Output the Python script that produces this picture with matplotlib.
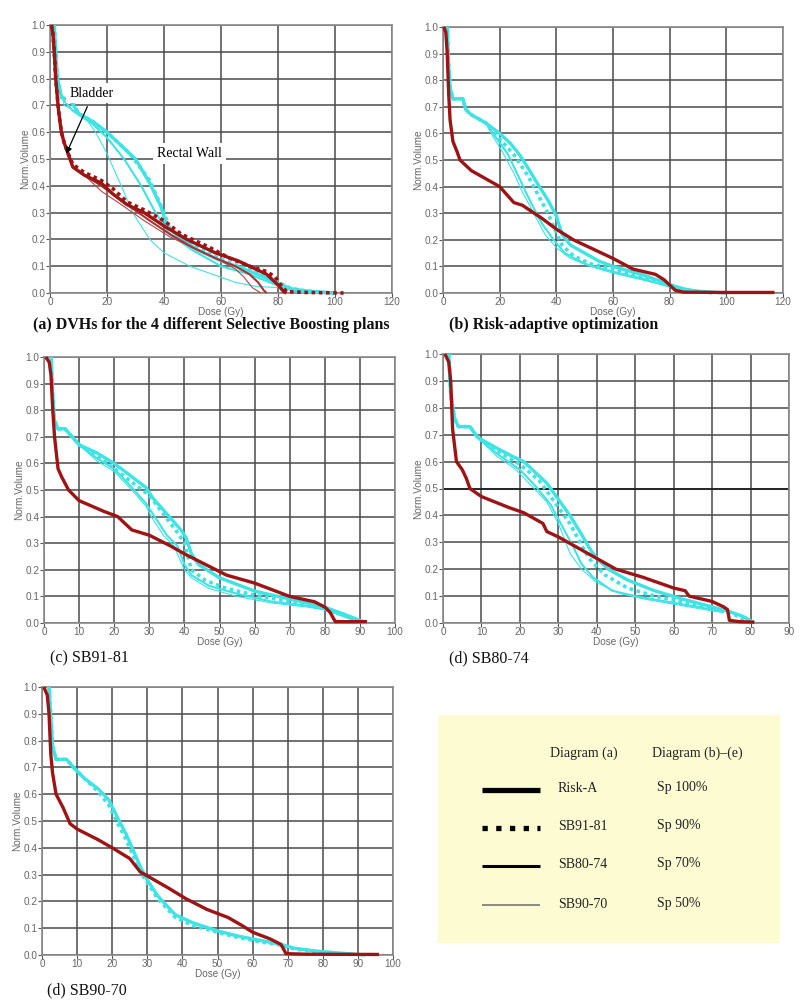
import matplotlib
matplotlib.use("Agg")
import matplotlib.pyplot as plt
from matplotlib.patches import Rectangle

# ---------------- data ----------------
# Panel (a): DVHs for 4 Selective Boosting plans
A_BLAD_RISKA_DOSE = [0.5, 1, 1.5, 2, 3, 4, 5, 6, 8, 12, 18, 22, 27, 33, 40, 48, 58, 66, 72, 76, 78, 80, 82, 83]
A_BLAD_RISKA_VOL = [1.0, 0.97, 0.9, 0.8, 0.68, 0.6, 0.56, 0.53, 0.47, 0.44, 0.41, 0.37, 0.33, 0.30, 0.25, 0.20, 0.15, 0.12, 0.09, 0.07, 0.05, 0.03, 0.005, 0.0]
A_BLAD_SB9181_DOSE = [0.5, 1, 1.5, 2, 3, 4, 5, 6, 8, 12, 18, 22, 27, 33, 40, 46, 56, 63, 70, 76, 79, 81, 83, 90, 103]
A_BLAD_SB9181_VOL = [1.0, 0.97, 0.9, 0.8, 0.68, 0.6, 0.56, 0.53, 0.48, 0.45, 0.42, 0.39, 0.34, 0.31, 0.27, 0.22, 0.17, 0.13, 0.10, 0.08, 0.06, 0.03, 0.005, 0.002, 0.0]
A_BLAD_SB8074_DOSE = [0.5, 1, 1.5, 2, 3, 4, 5, 6, 8, 12, 18, 27, 35, 42, 50, 58, 65, 70, 73, 75, 76]
A_BLAD_SB8074_VOL = [1.0, 0.97, 0.9, 0.8, 0.68, 0.6, 0.56, 0.53, 0.47, 0.44, 0.40, 0.33, 0.27, 0.22, 0.17, 0.13, 0.10, 0.07, 0.04, 0.01, 0.0]
A_BLAD_SB9070_DOSE = [0.5, 1, 1.5, 2, 3, 4, 5, 6, 8, 12, 18, 25, 33, 42, 52, 60, 65, 68, 71, 74]
A_BLAD_SB9070_VOL = [1.0, 0.97, 0.9, 0.8, 0.68, 0.6, 0.56, 0.53, 0.47, 0.44, 0.38, 0.33, 0.27, 0.21, 0.16, 0.12, 0.09, 0.06, 0.02, 0.0]

A_RECT_RISKA_DOSE = [1.5, 2.5, 4, 7, 10, 15, 20, 25, 30, 35, 39, 41, 46, 52, 60, 68, 75, 80, 85, 92, 100]
A_RECT_RISKA_VOL = [1.0, 0.8, 0.73, 0.72, 0.67, 0.64, 0.60, 0.55, 0.50, 0.41, 0.32, 0.25, 0.20, 0.16, 0.12, 0.09, 0.06, 0.035, 0.015, 0.005, 0.0]
A_RECT_SB9181_DOSE = [1.5, 2.5, 4, 7, 10, 15, 20, 28, 35, 40, 42, 47, 57, 66, 75, 80, 84, 88, 95, 100]
A_RECT_SB9181_VOL = [1.0, 0.8, 0.73, 0.73, 0.67, 0.64, 0.60, 0.52, 0.42, 0.30, 0.24, 0.20, 0.14, 0.10, 0.07, 0.04, 0.02, 0.01, 0.003, 0.0]
A_RECT_SB8074_DOSE = [1.5, 2.5, 4, 8, 15, 20, 26, 32, 37, 42, 50, 60, 70, 77, 82, 88]
A_RECT_SB8074_VOL = [1.0, 0.8, 0.73, 0.68, 0.63, 0.58, 0.50, 0.40, 0.30, 0.22, 0.16, 0.10, 0.07, 0.04, 0.02, 0.0]
A_RECT_SB9070_DOSE = [1.5, 3, 5, 12, 16, 20, 25, 29, 35, 40, 49, 57, 65, 72, 80, 85, 90]
A_RECT_SB9070_VOL = [1.0, 0.8, 0.70, 0.66, 0.60, 0.52, 0.40, 0.30, 0.20, 0.15, 0.10, 0.07, 0.04, 0.025, 0.02, 0.01, 0.0]

# Panel (b): risk-adaptive optimization
B_BLAD_DOSE = [0.3, 1, 1.5, 2, 2.5, 3.5, 5, 6, 8, 10, 15, 20, 25, 28, 35, 40, 46, 54, 60, 67, 75, 78, 80, 82, 85, 100, 117]
B_BLAD_VOL = [1.0, 0.98, 0.9, 0.75, 0.65, 0.57, 0.53, 0.50, 0.48, 0.46, 0.43, 0.40, 0.34, 0.33, 0.28, 0.24, 0.20, 0.16, 0.13, 0.09, 0.07, 0.05, 0.03, 0.01, 0.003, 0.002, 0.002]
B_RECT_SP100_DOSE = [1.5, 2, 2.5, 3.5, 7, 8, 10, 15, 20, 24, 27, 30, 34, 37, 40, 42, 45, 50, 55, 60, 65, 70, 78, 82, 86, 90, 95, 100]
B_RECT_SP100_VOL = [1.0, 0.85, 0.77, 0.73, 0.73, 0.69, 0.67, 0.64, 0.60, 0.56, 0.52, 0.47, 0.40, 0.35, 0.29, 0.22, 0.18, 0.15, 0.12, 0.10, 0.085, 0.07, 0.04, 0.025, 0.013, 0.007, 0.003, 0.0]
B_RECT_SP90_DOSE = [1.5, 2, 2.5, 3.5, 7, 8, 10, 15, 20, 25, 30, 34, 37, 39, 42, 46, 52, 60, 70, 78, 84, 90, 96]
B_RECT_SP90_VOL = [1.0, 0.85, 0.77, 0.73, 0.73, 0.69, 0.67, 0.64, 0.58, 0.52, 0.44, 0.36, 0.30, 0.25, 0.18, 0.14, 0.11, 0.09, 0.06, 0.035, 0.015, 0.005, 0.0]
B_RECT_SP70_DOSE = [1.5, 2, 2.5, 3.5, 7, 8, 10, 15, 19, 23, 27, 31, 35, 39, 43, 50, 60, 70, 78, 84, 90, 95]
B_RECT_SP70_VOL = [1.0, 0.85, 0.77, 0.73, 0.73, 0.69, 0.67, 0.64, 0.58, 0.52, 0.43, 0.34, 0.26, 0.20, 0.15, 0.11, 0.08, 0.055, 0.03, 0.012, 0.004, 0.0]
B_RECT_SP50_DOSE = [1.5, 2, 2.5, 3.5, 7, 8, 10, 15, 17, 21, 25, 28, 32, 36, 40, 45, 52, 60, 70, 78, 84, 90, 95]
B_RECT_SP50_VOL = [1.0, 0.85, 0.77, 0.73, 0.73, 0.69, 0.67, 0.64, 0.60, 0.53, 0.45, 0.38, 0.30, 0.22, 0.17, 0.13, 0.10, 0.075, 0.05, 0.03, 0.012, 0.004, 0.0]

# Panel (c): SB91-81
C_BLAD_DOSE = [0.5, 1.5, 2, 2.5, 3, 4, 5, 7, 10, 17, 21, 25, 30, 36, 40, 46, 52, 60, 66, 70, 77, 80, 81.5, 83, 92]
C_BLAD_VOL = [1.0, 0.98, 0.93, 0.8, 0.7, 0.58, 0.55, 0.50, 0.46, 0.42, 0.40, 0.35, 0.33, 0.29, 0.26, 0.22, 0.18, 0.15, 0.12, 0.10, 0.08, 0.06, 0.04, 0.005, 0.005]
C_RECT_SP100_DOSE = [2, 2.5, 3, 4, 6, 8, 10, 15, 20, 25, 29, 31, 35, 39, 40.5, 42, 44, 50, 60, 70, 80, 85, 88, 92]
C_RECT_SP100_VOL = [1.0, 0.85, 0.76, 0.73, 0.73, 0.70, 0.67, 0.64, 0.60, 0.55, 0.51, 0.47, 0.41, 0.35, 0.32, 0.26, 0.22, 0.17, 0.12, 0.09, 0.06, 0.035, 0.02, 0.0]
C_RECT_SP90_DOSE = [2, 2.5, 3, 4, 6, 8, 10, 15, 20, 25, 30, 34, 38, 40, 42, 46, 52, 60, 70, 80, 86, 91]
C_RECT_SP90_VOL = [1.0, 0.85, 0.76, 0.73, 0.73, 0.70, 0.67, 0.63, 0.58, 0.53, 0.48, 0.41, 0.34, 0.30, 0.20, 0.16, 0.13, 0.105, 0.08, 0.055, 0.03, 0.0]
C_RECT_SP70_DOSE = [2, 2.5, 3, 4, 6, 8, 10, 15, 20, 25, 29, 32, 35, 38, 40, 42, 47, 55, 65, 75, 80, 86, 91]
C_RECT_SP70_VOL = [1.0, 0.85, 0.76, 0.73, 0.73, 0.70, 0.67, 0.62, 0.58, 0.51, 0.45, 0.39, 0.33, 0.29, 0.22, 0.18, 0.14, 0.11, 0.08, 0.065, 0.05, 0.025, 0.0]
C_RECT_SP50_DOSE = [2, 2.5, 3, 4, 6, 8, 10, 15, 20, 25, 29, 31, 34, 37, 40, 42, 47, 55, 65, 75, 80, 86, 90]
C_RECT_SP50_VOL = [1.0, 0.85, 0.76, 0.73, 0.73, 0.70, 0.67, 0.61, 0.57, 0.50, 0.44, 0.39, 0.33, 0.29, 0.20, 0.17, 0.13, 0.10, 0.075, 0.06, 0.05, 0.02, 0.0]

# Panel (d): SB80-74
D_BLAD_DOSE = [0.5, 1.5, 2, 2.5, 3.5, 5, 6, 7, 10, 17, 21, 26, 27, 30, 35, 40, 45, 52, 60, 63, 64, 70, 73, 74, 74.5, 77, 81]
D_BLAD_VOL = [1.0, 0.97, 0.9, 0.72, 0.60, 0.57, 0.54, 0.50, 0.47, 0.43, 0.41, 0.37, 0.34, 0.32, 0.28, 0.24, 0.20, 0.17, 0.13, 0.12, 0.10, 0.08, 0.06, 0.05, 0.01, 0.005, 0.003]
D_RECT_SP100_DOSE = [1.5, 2, 3, 4, 7, 9, 14, 18, 21, 24, 27, 30, 33, 36, 38, 40, 43, 48, 55, 62, 70, 75, 78, 81]
D_RECT_SP100_VOL = [1.0, 0.85, 0.76, 0.73, 0.73, 0.69, 0.65, 0.62, 0.60, 0.56, 0.52, 0.46, 0.40, 0.33, 0.28, 0.24, 0.20, 0.16, 0.12, 0.09, 0.06, 0.04, 0.025, 0.0]
D_RECT_SP90_DOSE = [1.5, 2, 3, 4, 7, 9, 14, 20, 25, 29, 33, 36, 38, 42, 48, 55, 62, 70, 74, 80]
D_RECT_SP90_VOL = [1.0, 0.85, 0.76, 0.73, 0.73, 0.69, 0.64, 0.59, 0.53, 0.45, 0.37, 0.29, 0.24, 0.18, 0.13, 0.10, 0.08, 0.055, 0.045, 0.0]
D_RECT_SP70_DOSE = [1.5, 2, 3, 4, 7, 9, 14, 20, 24, 28, 31, 34, 36, 39, 44, 50, 60, 70, 73]
D_RECT_SP70_VOL = [1.0, 0.85, 0.76, 0.73, 0.73, 0.69, 0.63, 0.57, 0.51, 0.44, 0.36, 0.28, 0.22, 0.17, 0.12, 0.10, 0.075, 0.05, 0.04]
D_RECT_SP50_DOSE = [1.5, 2, 3, 4, 7, 9, 14, 19, 23, 27, 30, 33, 36, 40, 46, 52, 60, 70, 73]
D_RECT_SP50_VOL = [1.0, 0.85, 0.76, 0.73, 0.73, 0.69, 0.62, 0.57, 0.51, 0.45, 0.37, 0.26, 0.20, 0.15, 0.11, 0.09, 0.07, 0.045, 0.04]
D_REF_LEVEL = 0.5

# Panel (e): SB90-70
E_BLAD_DOSE = [0.5, 1.5, 2, 2.5, 3, 4, 6, 8, 10, 16, 20, 25, 28, 32, 36, 41, 47, 53, 57, 60, 65, 68, 68.5, 69.5, 75, 96]
E_BLAD_VOL = [1.0, 0.97, 0.9, 0.75, 0.68, 0.60, 0.55, 0.49, 0.47, 0.43, 0.40, 0.36, 0.31, 0.28, 0.25, 0.21, 0.17, 0.14, 0.11, 0.085, 0.06, 0.04, 0.03, 0.005, 0.003, 0.002]
E_RECT_SP100_DOSE = [2, 3, 4, 7, 9, 12, 16, 19, 22, 24, 26, 28, 30, 33, 38, 43, 50, 56, 62, 68, 72, 78, 84, 88, 92]
E_RECT_SP100_VOL = [1.0, 0.78, 0.73, 0.73, 0.70, 0.66, 0.62, 0.58, 0.50, 0.45, 0.39, 0.33, 0.28, 0.22, 0.15, 0.12, 0.09, 0.07, 0.055, 0.04, 0.025, 0.015, 0.008, 0.004, 0.0]
E_RECT_SP90_DOSE = [2, 3, 4, 7, 9, 12, 16, 19, 22, 24, 26, 28, 30, 33, 38, 43, 50, 56, 62, 68, 72, 78, 84, 88]
E_RECT_SP90_VOL = [1.0, 0.78, 0.73, 0.73, 0.70, 0.66, 0.61, 0.56, 0.48, 0.43, 0.37, 0.31, 0.27, 0.21, 0.14, 0.11, 0.085, 0.065, 0.05, 0.037, 0.022, 0.013, 0.006, 0.002]

# Axis ticks
Y_TICKS = [0.0, 0.1, 0.2, 0.3, 0.4, 0.5, 0.6, 0.7, 0.8, 0.9, 1.0]
X_TICKS_120 = [0, 20, 40, 60, 80, 100, 120]
X_TICKS_100 = [0, 10, 20, 30, 40, 50, 60, 70, 80, 90, 100]
X_TICKS_90 = [0, 10, 20, 30, 40, 50, 60, 70, 80, 90]

# Captions and legend text
CAPTIONS = ["(a) DVHs for the 4 different Selective Boosting plans",
            "(b) Risk-adaptive optimization",
            "(c) SB91-81", "(d) SB80-74", "(d) SB90-70"]
LEGEND_HEAD = ["Diagram (a)", "Diagram (b)\u2013(e)"]
LEGEND_A = ["Risk-A", "SB91-81", "SB80-74", "SB90-70"]
LEGEND_BE = ["Sp 100%", "Sp 90%", "Sp 70%", "Sp 50%"]

# ---------------- style ----------------
RED = "#9E1414"
CYAN = "#3EE3E6"
GRID = "#4a4a4a"
TICKC = "#666666"
STYLES = {
    "thick": dict(lw=2.4, ls="-"),
    "dot": dict(lw=2.6, ls=(0, (1.0, 1.0))),
    "med": dict(lw=1.5, ls="-"),
    "thin": dict(lw=0.8, ls="-"),
}

W, H = 800, 1002
fig = plt.figure(figsize=(W / 100, H / 100), dpi=100)


def px_axes(l, t, r, b):
    return fig.add_axes([l / W, 1 - b / H, (r - l) / W, (b - t) / H])


def setup(ax, xmax, xticks):
    ax.set_xlim(0, xmax)
    ax.set_ylim(0, 1.0)
    ax.set_xticks(xticks)
    ax.set_yticks(Y_TICKS)
    ax.set_yticklabels([f"{v:.1f}" for v in Y_TICKS])
    ax.grid(True, color=GRID, lw=1.1)
    ax.set_axisbelow(True)
    for s in ax.spines.values():
        s.set_color("#8a8a8a")
        s.set_linewidth(1.2)
    ax.tick_params(axis="both", colors="#555555", labelcolor=TICKC, labelsize=7.2,
                   length=3, width=0.8, pad=0.3)
    ax.tick_params(axis="x", pad=0)
    for lab in ax.get_xticklabels() + ax.get_yticklabels():
        lab.set_family("Liberation Sans")
    ax.set_xlabel("Dose (Gy)", fontsize=7.2, color=TICKC, labelpad=0.2, family="Liberation Sans")
    ax.set_ylabel("Norm.Volume", fontsize=7.2, color=TICKC, labelpad=1, family="Liberation Sans")


def curve(ax, x, y, color, style, z=3):
    ax.plot(x, y, color=color, clip_on=False, zorder=z, solid_capstyle="butt", **STYLES[style])


# ---- (a)
axa = px_axes(50, 25, 392, 293)
setup(axa, 120, X_TICKS_120)
curve(axa, A_RECT_SB9070_DOSE, A_RECT_SB9070_VOL, CYAN, "thin")
curve(axa, A_RECT_SB8074_DOSE, A_RECT_SB8074_VOL, CYAN, "med")
curve(axa, A_RECT_RISKA_DOSE, A_RECT_RISKA_VOL, CYAN, "thick")
curve(axa, A_RECT_SB9181_DOSE, A_RECT_SB9181_VOL, CYAN, "dot")
curve(axa, A_BLAD_SB9070_DOSE, A_BLAD_SB9070_VOL, "#B04848", "thin", 4)
curve(axa, A_BLAD_SB8074_DOSE, A_BLAD_SB8074_VOL, "#B03030", "med", 4)
curve(axa, A_BLAD_RISKA_DOSE, A_BLAD_RISKA_VOL, RED, "thick", 4)
curve(axa, A_BLAD_SB9181_DOSE, A_BLAD_SB9181_VOL, RED, "dot", 5)
# annotation labels (white boxes covering the grid)
axa.text(14.5, 0.745, "Bladder", fontsize=10, family="Liberation Serif", ha="center", va="center",
         bbox=dict(boxstyle="square,pad=0.25", fc="white", ec="none"), zorder=6)
axa.annotate("", xy=(5.3, 0.51), xytext=(13.5, 0.705),
             arrowprops=dict(arrowstyle="-|>", color="black", lw=0.9, mutation_scale=9), zorder=7)
axa.text(49, 0.52, "Rectal Wall", fontsize=10, family="Liberation Serif", ha="center", va="center",
         bbox=dict(boxstyle="square,pad=0.3", fc="white", ec="none"), zorder=6)

# ---- (b)
axb = px_axes(443, 27, 783, 293)
setup(axb, 120, X_TICKS_120)
curve(axb, B_RECT_SP50_DOSE, B_RECT_SP50_VOL, CYAN, "thin")
curve(axb, B_RECT_SP70_DOSE, B_RECT_SP70_VOL, CYAN, "med")
curve(axb, B_RECT_SP100_DOSE, B_RECT_SP100_VOL, CYAN, "thick")
curve(axb, B_RECT_SP90_DOSE, B_RECT_SP90_VOL, CYAN, "dot")
curve(axb, B_BLAD_DOSE, B_BLAD_VOL, RED, "thick", 5)

# ---- (c)
axc = px_axes(44, 357, 395, 623)
setup(axc, 100, X_TICKS_100)
curve(axc, C_RECT_SP50_DOSE, C_RECT_SP50_VOL, CYAN, "thin")
curve(axc, C_RECT_SP70_DOSE, C_RECT_SP70_VOL, CYAN, "med")
curve(axc, C_RECT_SP100_DOSE, C_RECT_SP100_VOL, CYAN, "thick")
curve(axc, C_RECT_SP90_DOSE, C_RECT_SP90_VOL, CYAN, "dot")
curve(axc, C_BLAD_DOSE, C_BLAD_VOL, RED, "thick", 5)

# ---- (d)
axd = px_axes(443, 354, 789, 623)
setup(axd, 90, X_TICKS_90)
axd.axhline(D_REF_LEVEL, color="#222222", lw=1.3, zorder=2.5)
curve(axd, D_RECT_SP50_DOSE, D_RECT_SP50_VOL, CYAN, "thin")
curve(axd, D_RECT_SP70_DOSE, D_RECT_SP70_VOL, CYAN, "med")
curve(axd, D_RECT_SP100_DOSE, D_RECT_SP100_VOL, CYAN, "thick")
curve(axd, D_RECT_SP90_DOSE, D_RECT_SP90_VOL, CYAN, "dot")
curve(axd, D_BLAD_DOSE, D_BLAD_VOL, RED, "thick", 5)

# ---- (e)
axe = px_axes(42, 687, 393, 955)
setup(axe, 100, X_TICKS_100)
curve(axe, E_RECT_SP90_DOSE, E_RECT_SP90_VOL, CYAN, "dot")
curve(axe, E_RECT_SP100_DOSE, E_RECT_SP100_VOL, CYAN, "thick")
curve(axe, E_BLAD_DOSE, E_BLAD_VOL, RED, "thick", 5)

# ---- captions
cap_kw = dict(family="Liberation Serif", color="#111111", va="center", ha="left")
fig.text(33 / W, 1 - 325 / H, CAPTIONS[0], fontsize=11.5, weight="bold", **cap_kw)
fig.text(449 / W, 1 - 325 / H, CAPTIONS[1], fontsize=11.5, weight="bold", **cap_kw)
fig.text(50 / W, 1 - 658 / H, CAPTIONS[2], fontsize=11.5, **cap_kw)
fig.text(449 / W, 1 - 658 / H, CAPTIONS[3], fontsize=11.5, **cap_kw)
fig.text(47 / W, 1 - 990 / H, CAPTIONS[4], fontsize=11.5, **cap_kw)

# ---- legend box
axl = px_axes(438, 715, 780, 943)
axl.set_xlim(0, 1)
axl.set_ylim(0, 1)
axl.axis("off")
axl.add_patch(Rectangle((0, 0), 1, 1, transform=axl.transAxes, fc="#FDFBD2", ec="none"))

def lx(p):
    return (p - 438) / 342

def ly(p):
    return 1 - (p - 715) / 228

leg_kw = dict(family="Liberation Serif", fontsize=10, color="#222222", va="center", ha="left")
axl.text(lx(550), ly(753), LEGEND_HEAD[0], **leg_kw)
axl.text(lx(652), ly(753), LEGEND_HEAD[1], **leg_kw)
row_y = [790, 828, 866, 905]
sample_styles = [dict(color="black", lw=3.8, ls="-"),
                 dict(color="black", lw=3.8, ls=(0, (1.0, 1.6))),
                 dict(color="black", lw=2.2, ls="-"),
                 dict(color="#777777", lw=1.2, ls="-")]
for yy, la, lb, st in zip(row_y, LEGEND_A, LEGEND_BE, sample_styles):
    axl.plot([lx(482), lx(540)], [ly(yy), ly(yy)], solid_capstyle="butt", **st)
    axl.text(lx(558), ly(yy - 1), la, **leg_kw)
    axl.text(lx(657), ly(yy - 2), lb, **leg_kw)

fig.savefig("out.png", dpi=100, facecolor="white")
